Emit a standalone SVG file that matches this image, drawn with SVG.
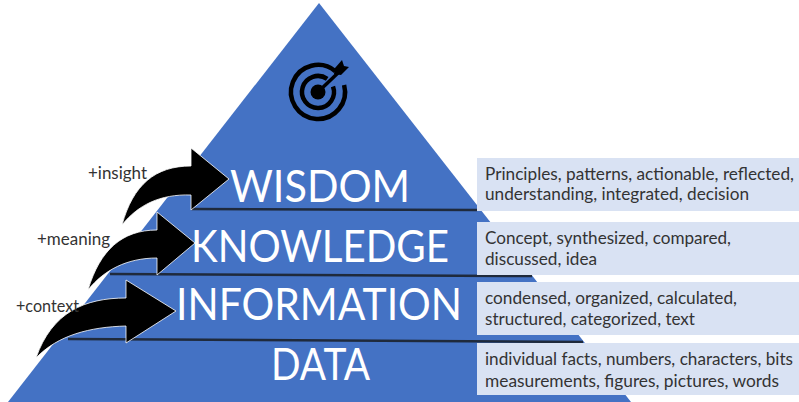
<svg xmlns="http://www.w3.org/2000/svg" width="799" height="402" viewBox="0 0 799 402">
<style>
.lvl{font-family:"Lato","Open Sans",sans-serif;font-size:44px;font-weight:400;fill:#fff}
.side{font-family:"Lato","Open Sans",sans-serif;font-size:17px;fill:#333}
.lab{font-family:"Lato","Open Sans",sans-serif;font-size:17px;fill:#333}
.box{fill:#d9e2f3}
.rule{stroke:#1f2a3c;stroke-width:2.5;fill:none}
.arrow{fill:#000;stroke:#fff;stroke-width:.8}
</style>
<rect width="799" height="402" fill="#fff"/>
<g id="pyramid"><polygon points="319,3 631,402 8,402" fill="#4472c4"/></g>
<g id="target" fill="none" stroke="#000">
<path d="M335.400 71.300A27 27 0 1 0 344.100 85" stroke-width="4.500"/>
<path d="M327.200 78.900A16 16 0 1 0 333 86.500" stroke-width="4.500"/>
<circle cx="318" cy="92" r="7.500" fill="#000" stroke="none"/>
<path d="M318 92L339 72" stroke-width="3.500"/>
<polygon points="335,68 342,60 344,66 349,67 341,75 334,74" fill="#000" stroke="none"/>
</g>
<g id="connectors">
<path class="rule" d="M191 209L477 210"/>
<path class="rule" d="M110 274L532 276"/>
<path class="rule" d="M68 339L583 342"/>
<path class="arrow" d="M122 225C133 185 155 166 191 166V148L229 179L191 210V195C160 194 138 205 122 225Z"/>
<path class="arrow" d="M88 290C100 250 122 230 157 230V212L195 243L157 275V258C127 258 104 270 88 290Z"/>
<path class="arrow" d="M36 358C52 312 85 298 126 298V280L176 311L126 343V326C90 327 58 335 36 358Z"/>
</g>
<g id="wisdom"><text class="lvl" x="230" y="202" textLength="180" lengthAdjust="spacingAndGlyphs">WISDOM</text>
<rect class="box" x="477" y="158" width="322" height="53"/>
<text class="side" x="485" y="180" textLength="309" lengthAdjust="spacingAndGlyphs">Principles, patterns, actionable, reflected,</text>
<text class="side" x="485" y="200" textLength="264" lengthAdjust="spacingAndGlyphs">understanding, integrated, decision</text></g>
<g id="knowledge"><text class="lvl" x="191" y="262" textLength="258" lengthAdjust="spacingAndGlyphs">KNOWLEDGE</text>
<rect class="box" x="477" y="222" width="322" height="53"/>
<text class="side" x="485" y="244" textLength="246" lengthAdjust="spacingAndGlyphs">Concept, synthesized, compared,</text>
<text class="side" x="485" y="265" textLength="112" lengthAdjust="spacingAndGlyphs">discussed, idea</text></g>
<g id="information"><text class="lvl" x="176" y="320" textLength="286" lengthAdjust="spacingAndGlyphs">INFORMATION</text>
<rect class="box" x="477" y="282" width="322" height="53"/>
<text class="side" x="485" y="304" textLength="252" lengthAdjust="spacingAndGlyphs">condensed, organized, calculated,</text>
<text class="side" x="485" y="325" textLength="210" lengthAdjust="spacingAndGlyphs">structured, categorized, text</text></g>
<g id="data"><text class="lvl" x="271" y="380" textLength="99" lengthAdjust="spacingAndGlyphs">DATA</text>
<rect class="box" x="477" y="343" width="322" height="52"/>
<text class="side" x="485" y="365" textLength="308" lengthAdjust="spacingAndGlyphs">individual facts, numbers, characters, bits</text>
<text class="side" x="485" y="387" textLength="294" lengthAdjust="spacingAndGlyphs">measurements, figures, pictures, words</text></g>
<g id="label-insight"><text class="lab" x="88" y="179" textLength="59" lengthAdjust="spacingAndGlyphs">+insight</text></g>
<g id="label-meaning"><text class="lab" x="37" y="245" textLength="73" lengthAdjust="spacingAndGlyphs">+meaning</text></g>
<g id="label-context"><text class="lab" x="16" y="312" textLength="63" lengthAdjust="spacingAndGlyphs">+context</text></g>
</svg>
